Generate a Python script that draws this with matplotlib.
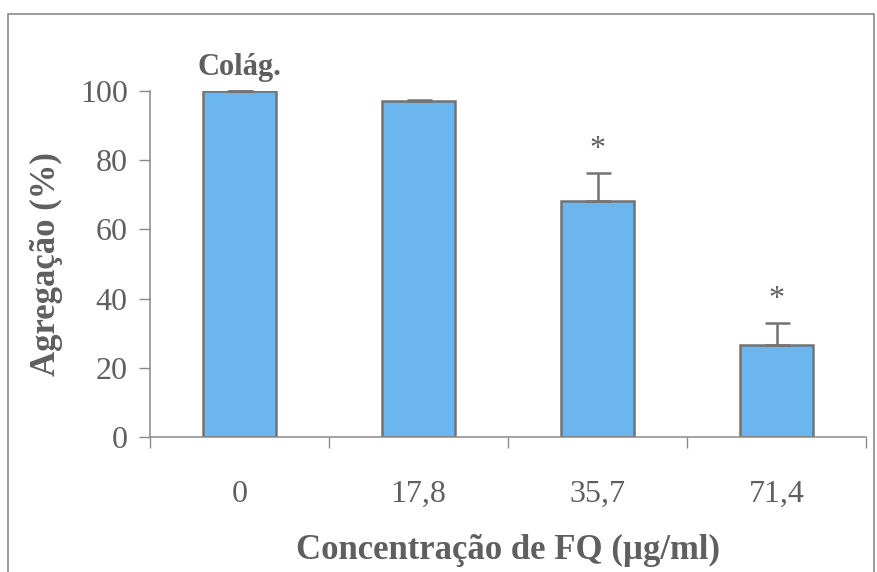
import numpy as np
import matplotlib.pyplot as plt
from matplotlib.patches import Rectangle

# dados
concentracoes = ['0', '17,8', '35,7', '71,4']
agregacao = [100.0, 97.0, 68.2, 26.6]
erro_sup = [0.0, 0.5, 8.2, 6.4]
signif = ['', '', '*', '*']

cor_barra = '#6cb6ef'
cor_borda = '#737373'
cor_texto = '#5f5f5f'

plt.rcParams['font.family'] = ['Liberation Serif', 'DejaVu Serif']

fig = plt.figure(figsize=(8.77, 5.72), dpi=100)
fig.patches.append(Rectangle((8 / 877, -0.01), (866) / 877, 1 - 14 / 572 + 0.01,
                             transform=fig.transFigure, fill=False,
                             edgecolor='#8a8a8a', linewidth=1.2))

ax = fig.add_axes([150 / 877, 1 - 437 / 572, 716 / 877, 346 / 572])
x = np.arange(len(concentracoes))
ax.bar(x, agregacao, width=0.41, color=cor_barra, edgecolor=cor_borda,
       linewidth=1.8, zorder=2)
ax.errorbar(x, agregacao, yerr=[np.zeros(len(x)), erro_sup], fmt='none',
            ecolor=cor_borda, elinewidth=1.8, capsize=9, capthick=1.8,
            clip_on=False, zorder=3)

for xi, v, e, s in zip(x, agregacao, erro_sup, signif):
    if s:
        ax.text(xi, v + e + 2.5, s, ha='center', va='bottom', fontsize=23,
                color=cor_texto, clip_on=False)

ax.text(x[0], 102.5, 'Colág.', ha='center', va='bottom', fontsize=22,
        fontweight='bold', color=cor_texto)

ax.set_xlim(-0.5, len(x) - 0.5)
ax.set_ylim(0, 100)
ax.set_yticks(np.arange(0, 101, 20))
ax.set_xticks(np.arange(-0.5, len(x)), labels=[])
ax.set_xticks(x, labels=concentracoes, minor=True)
ax.tick_params(axis='y', direction='out', length=8, width=1, colors='#8a8a8a',
               labelcolor=cor_texto, labelsize=23, pad=8)
ax.tick_params(axis='x', which='major', direction='out', length=8, width=1,
               colors='#8a8a8a')
ax.tick_params(axis='x', which='minor', length=0, labelcolor=cor_texto,
               labelsize=23, pad=31)

for side in ['top', 'right']:
    ax.spines[side].set_visible(False)
for side in ['left', 'bottom']:
    ax.spines[side].set_color('#8a8a8a')
    ax.spines[side].set_linewidth(1.1)

ax.set_ylabel('Agregação (%)', fontsize=25, fontweight='bold',
              color=cor_texto, labelpad=12)
ax.set_xlabel('Concentração de FQ (µg/ml)', fontsize=25, fontweight='bold',
              color=cor_texto, labelpad=18)

fig.savefig('out.png', dpi=100)
